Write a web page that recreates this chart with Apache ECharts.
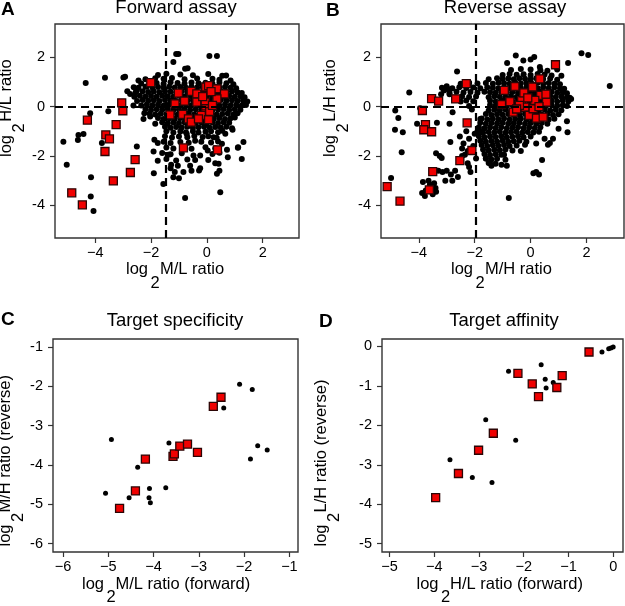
<!DOCTYPE html>
<html><head><meta charset="utf-8">
<script src="https://cdn.jsdelivr.net/npm/echarts@6/dist/echarts.min.js"></script>
<style>html,body{margin:0;padding:0;background:#fff}#c{width:625px;height:606px}</style>
</head><body><div id="c"></div>
<script>
// ---------------- DATA ----------------
const ticksAB = [-4, -2, 0, 2];
const ticksC = [-6, -5, -4, -3, -2, -1];
const ticksD = [-5, -4, -3, -2, -1, 0];

// Panel A: Forward assay (x = log2 M/L, y = log2 H/L)
const forwardOther = [
[-4.34,0.95],[-3.65,1.16],[-2.93,1.21],[-2.99,1.17],[-2.45,1.05],[-4.18,-0.27],[-3.53,-0.19],[-2.63,0.04],[-4.42,-1.11],[-4.62,-1.35],[-5.14,-1.42],[-3.76,-1.48],[-2.51,-1.62],[-5.02,-2.36],[-4.15,-2.86],[-4.16,-3.64],[-4.06,-4.23],[-2.27,-0.5],[-1.88,-1.34],[-1.76,-1.48],[-1.76,-2.19],[-1.9,-2.7],[-1.56,-3.13],[-1.2,1.8],[-1.1,2.13],[-1.28,-2.36],[-1.2,-2.86],[-1.85,-0.7],[-2.75,0.51],[-2.24,-0.27],[-1.02,2.13],[0.09,2.04],[0.36,2.04],[-0.78,1.53],[-0.69,1.55],[0.69,1.26],[1.37,0.14],[1.31,0.25],[0.92,-0.94],[1.31,-1.44],[1.11,-1.67],[1.25,-2.12],[0.75,-2.05],[0.42,-2.32],[0.36,-2.72],[0.48,-3.47],[-0.78,-3.7],[-0.28,-2.59],[-0.6,-2.4],[-0.55,-2.6],[-0.84,-2.65],[-1.04,-2.4],[-1.0,-2.9],[-0.48,-1.98],[-0.24,-1.98],[0.03,-1.78],[0.54,-1.51],[0.66,-1.1],[0.24,-1.24],[-0.42,-1.38],[-0.72,-1.11],
[-4.6,-1.15],[-2.15,0.81],[-2.51,0.65],[-2.03,-0.4],[-1.91,-1.82],[-1.3,-2.5],[-1.15,-2.65],[-0.42,-2.16],[-0.24,-2.5],[0.3,-2.3],[0.45,-2.6],[0.9,-0.88],[1.12,-1.65],[0.72,-1.75],[-2.85,0.62],[-2.62,0.78],[-1.38,-1.95],
[-1.75,1.28],[-1.45,1.33],[-0.95,1.3],[-0.5,1.27],[0.05,1.32],[0.55,1.25],
[-2.2,1.1],[-1.85,1.14],[-1.55,1.12],[-1.25,1.15],[-0.8,1.1],[-0.35,1.13],[0.2,1.12],[0.45,1.08],[0.85,1.05],
[-2.35,0.93],[-2.05,0.97],[-1.8,0.95],[-1.55,0.92],[-1.3,0.98],[-1.05,0.95],[-0.8,0.93],[-0.55,0.97],[-0.3,0.94],[-0.05,0.96],[0.2,0.93],[0.45,0.97],[0.7,0.94],[0.95,0.9],
[-2.45,0.76],[-2.2,0.8],[-1.95,0.77],[-1.75,0.79],[-1.55,0.76],[-1.35,0.8],[-1.15,0.77],[-0.95,0.79],[-0.75,0.76],[-0.55,0.8],[-0.35,0.77],[-0.15,0.79],[0.05,0.76],[0.25,0.8],[0.45,0.77],[0.65,0.79],[0.85,0.76],[1.05,0.74],
[-2.55,0.58],[-2.3,0.62],[-2.1,0.59],[-1.9,0.61],[-1.7,0.58],[-1.5,0.62],[-1.3,0.6],[-1.1,0.58],[-0.9,0.62],[-0.7,0.59],[-0.5,0.61],[-0.3,0.58],[-0.1,0.62],[0.1,0.6],[0.3,0.58],[0.5,0.62],[0.7,0.59],[0.9,0.61],[1.1,0.58],[1.25,0.55],
[-2.6,0.4],[-2.4,0.44],[-2.2,0.41],[-2.0,0.43],[-1.8,0.4],[-1.6,0.44],[-1.4,0.42],[-1.2,0.4],[-1.0,0.44],[-0.8,0.41],[-0.6,0.43],[-0.4,0.4],[-0.2,0.44],[0.0,0.42],[0.2,0.4],[0.4,0.44],[0.6,0.41],[0.8,0.43],[1.0,0.4],[1.2,0.42],[1.35,0.38],
[-2.5,0.22],[-2.3,0.26],[-2.1,0.23],[-1.9,0.25],[-1.7,0.22],[-1.5,0.26],[-1.3,0.24],[-1.1,0.22],[-0.9,0.26],[-0.7,0.23],[-0.5,0.25],[-0.3,0.22],[-0.1,0.26],[0.1,0.24],[0.3,0.22],[0.5,0.26],[0.7,0.23],[0.9,0.25],[1.1,0.22],[1.3,0.24],[1.45,0.2],
[-2.35,0.04],[-2.15,0.08],[-1.95,0.05],[-1.75,0.07],[-1.55,0.04],[-1.35,0.08],[-1.15,0.06],[-0.95,0.04],[-0.75,0.08],[-0.55,0.05],[-0.35,0.07],[-0.15,0.04],[0.05,0.08],[0.25,0.06],[0.45,0.04],[0.65,0.08],[0.85,0.05],[1.05,0.07],[1.25,0.04],[1.4,0.06],
[-2.2,-0.1],[-2.0,-0.14],[-1.8,-0.11],[-1.6,-0.13],[-1.4,-0.1],[-1.2,-0.14],[-1.0,-0.12],[-0.8,-0.1],[-0.6,-0.14],[-0.4,-0.11],[-0.2,-0.13],[0.0,-0.1],[0.2,-0.14],[0.4,-0.12],[0.6,-0.1],[0.8,-0.14],[1.0,-0.11],[1.2,-0.13],
[-2.05,-0.28],[-1.85,-0.32],[-1.65,-0.29],[-1.45,-0.31],[-1.25,-0.28],[-1.05,-0.32],[-0.85,-0.3],[-0.65,-0.28],[-0.45,-0.32],[-0.25,-0.29],[-0.05,-0.31],[0.15,-0.28],[0.35,-0.32],[0.55,-0.3],[0.75,-0.28],[0.95,-0.32],[1.1,-0.27],
[-1.75,-0.46],[-1.55,-0.5],[-1.35,-0.47],[-1.15,-0.49],[-0.95,-0.46],[-0.75,-0.5],[-0.55,-0.48],[-0.35,-0.46],[-0.15,-0.5],[0.05,-0.47],[0.25,-0.49],[0.45,-0.46],[0.65,-0.5],[0.85,-0.47],[1.0,-0.44],
[-1.6,-0.64],[-1.4,-0.68],[-1.2,-0.65],[-1.0,-0.67],[-0.8,-0.64],[-0.6,-0.68],[-0.4,-0.66],[-0.2,-0.64],[0.0,-0.68],[0.2,-0.65],[0.4,-0.67],[0.6,-0.64],[0.8,-0.66],
[-1.5,-0.82],[-1.3,-0.86],[-1.1,-0.83],[-0.9,-0.85],[-0.7,-0.82],[-0.5,-0.86],[-0.3,-0.84],[-0.1,-0.82],[0.1,-0.86],[0.3,-0.83],[0.5,-0.85],[0.7,-0.82],
[-1.45,-1.0],[-1.2,-1.05],[-0.95,-1.01],[-0.75,-1.04],[-0.5,-1.0],[-0.3,-1.05],[-0.05,-1.02],[0.15,-1.0],[0.4,-1.04],[0.55,-0.98],
[-1.5,-1.2],[-1.25,-1.25],[-1.0,-1.21],[-0.7,-1.24],[-0.45,-1.19],[-0.15,-1.23],[0.05,-1.2],[0.35,-1.26],
[-1.55,-1.42],[-1.3,-1.48],[-0.95,-1.44],[-0.65,-1.47],[-0.2,-1.43],[0.15,-1.46],[0.4,-1.41],
[-1.45,-1.66],[-1.2,-1.7],[-0.85,-1.67],[-0.55,-1.71],[-0.05,-1.65],[0.3,-1.69],
[-1.6,-1.88],[-1.3,-1.93],[-0.9,-1.89],[0.2,-1.92],[0.45,-1.87],
[-1.45,-2.12],[-1.1,-2.18],[-0.7,-2.14],[0.05,-2.16]
];
const forwardTargets = [
[-4.84,-3.49],[-4.46,-3.98],[-4.28,-0.55],[-3.05,0.15],[-3.01,-0.17],[-3.25,-0.73],[-3.62,-1.15],[-3.49,-1.31],[-3.65,-1.82],[-2.57,-2.15],[-2.74,-2.67],[-3.35,-3.01],[-2.01,0.97],[-1.32,-0.34],[-1.14,0.11],[-1.02,0.54],[-0.8,0.22],[-0.87,-0.32],[-0.56,0.61],[-0.36,0.51],[-0.36,0.18],[-0.66,-0.5],[-0.56,-0.63],[-0.04,0.79],[0.06,0.85],[0.36,0.72],[0.63,0.51],[0.36,0.31],[-0.06,0.18],[-0.04,-0.09],[-0.04,-0.3],[-0.2,-0.36],[0.06,-0.53],[-0.84,-1.67],[0.38,-1.75],[0.1,-0.2],[0.2,0.05],[-0.3,-0.5],[-0.15,0.4],[0.15,0.6]
];

// Panel B: Reverse assay (x = log2 M/H, y = log2 L/H)
const reverseOther = [
[-4.34,0.57],[-4.84,-0.16],[-4.73,-0.46],[-4.85,-0.94],[-4.57,-1.04],[-4.61,-1.85],[-4.99,-2.89],[-4.06,-0.7],[-3.35,-0.66],[-3.17,0.76],[-3.0,0.82],[-2.95,0.7],[-2.63,1.42],[-2.79,-0.23],[-2.87,-1.44],[-2.53,-1.21],[-3.38,-1.89],[-3.25,-2.0],[-3.18,-2.08],[-2.9,-0.7],[-3.95,-0.07],
[-3.3,-2.6],[-3.15,-2.65],[-3.0,-2.6],[-2.85,-2.75],[-3.05,-3.0],[-2.8,-3.0],[-2.7,-2.6],[-2.6,-2.85],
[-3.85,-3.05],[-3.65,-3.0],[-3.45,-3.1],[-3.88,-3.5],[-3.75,-3.4],[-3.4,-3.3],[-3.38,-3.45],[-3.6,-3.15],[-3.5,-3.55],[-3.78,-3.62],
[-2.45,-1.7],[-2.25,-2.3],[-2.2,-2.45],[-2.15,-2.65],[-2.35,-1.95],[-1.8,-0.5],[-1.75,-1.0],[-1.6,-2.1],[-1.4,-2.4],[-1.45,-2.3],[-1.04,-2.36],
[-2.4,-1.5],[-2.2,-1.3],[-2.0,-1.1],[-2.3,-1.0],[-2.05,-1.6],[-2.25,-1.8],[-1.95,-2.1],[-2.45,-2.0],[-3.1,0.65],[-3.2,0.5],
[-0.53,2.07],[-0.84,1.76],[-0.26,1.86],[0.13,2.0],[0.0,1.9],[0.33,1.6],[1.34,1.76],[1.82,2.16],[2.06,2.09],[2.83,0.83],[1.32,-1.04],[0.69,-1.48],[0.62,-1.55],[0.41,-2.16],[0.1,-2.7],[0.3,-2.75],[0.2,-2.65],[-0.78,-3.7],[-0.95,-1.95],[-0.85,-2.4],[-0.9,-2.15],
[1.45,0.3],[1.3,-0.6],[1.0,-0.9],[0.8,-1.3],[0.5,-1.3],[0.2,-1.5],[-0.2,-1.55],[-0.35,-1.8],[-2.2,0.95],[-2.9,0.5],[0.95,1.5],[1.1,1.25],
[-0.7,1.48],[-0.35,1.52],[0.0,1.5],[0.35,1.47],[0.6,1.45],
[-1.0,1.28],[-0.75,1.32],[-0.5,1.29],[-0.25,1.31],[0.0,1.28],[0.25,1.32],[0.5,1.3],[0.75,1.26],
[-1.5,1.1],[-1.2,1.14],[-1.0,1.11],[-0.8,1.13],[-0.6,1.1],[-0.4,1.14],[-0.2,1.12],[0.0,1.1],[0.2,1.14],[0.45,1.11],[0.7,1.13],[0.95,1.08],
[-2.5,0.92],[-2.2,0.96],[-1.9,0.93],[-1.6,0.95],[-1.35,0.92],[-1.15,0.96],[-0.95,0.94],[-0.75,0.92],[-0.55,0.96],[-0.35,0.93],[-0.15,0.95],[0.05,0.92],[0.25,0.96],[0.45,0.93],[0.65,0.95],[0.85,0.92],[1.05,0.9],
[-2.8,0.74],[-2.55,0.78],[-2.3,0.75],[-2.05,0.77],[-1.8,0.74],[-1.55,0.78],[-1.35,0.76],[-1.15,0.74],[-0.95,0.78],[-0.75,0.75],[-0.55,0.77],[-0.35,0.74],[-0.15,0.78],[0.05,0.76],[0.25,0.74],[0.45,0.78],[0.65,0.75],[0.85,0.77],[1.05,0.74],[1.2,0.72],
[-2.9,0.56],[-2.65,0.6],[-2.4,0.57],[-2.15,0.59],[-1.9,0.56],[-1.65,0.6],[-1.45,0.58],[-1.25,0.56],[-1.05,0.6],[-0.85,0.57],[-0.65,0.59],[-0.45,0.56],[-0.25,0.6],[-0.05,0.58],[0.15,0.56],[0.35,0.6],[0.55,0.57],[0.75,0.59],[0.95,0.56],[1.15,0.58],[1.3,0.54],
[-2.7,0.38],[-2.45,0.42],[-2.2,0.39],[-1.95,0.41],[-1.5,0.38],[-1.3,0.42],[-1.1,0.4],[-0.9,0.38],[-0.7,0.42],[-0.5,0.39],[-0.3,0.41],[-0.1,0.38],[0.1,0.42],[0.3,0.4],[0.5,0.38],[0.7,0.42],[0.9,0.39],[1.1,0.41],[1.3,0.38],[1.4,0.36],
[-2.5,0.2],[-2.3,0.24],[-2.05,0.21],[-1.45,0.23],[-1.25,0.2],[-1.05,0.24],[-0.85,0.22],[-0.65,0.2],[-0.45,0.24],[-0.25,0.21],[-0.05,0.23],[0.15,0.2],[0.35,0.24],[0.55,0.21],[0.75,0.23],[0.95,0.2],[1.15,0.24],[1.35,0.2],
[-2.2,0.02],[-1.45,0.06],[-1.25,0.03],[-1.05,0.05],[-0.85,0.02],[-0.65,0.06],[-0.45,0.04],[-0.25,0.02],[-0.05,0.06],[0.15,0.03],[0.35,0.05],[0.55,0.02],[0.75,0.06],[0.95,0.03],[1.15,0.05],[1.3,0.02],
[-2.1,-0.12],[-1.5,-0.16],[-1.3,-0.13],[-1.1,-0.15],[-0.9,-0.12],[-0.7,-0.16],[-0.5,-0.14],[-0.3,-0.12],[-0.1,-0.16],[0.1,-0.13],[0.3,-0.15],[0.5,-0.12],[0.7,-0.16],[0.9,-0.13],[1.1,-0.15],
[-1.6,-0.3],[-1.4,-0.34],[-1.2,-0.31],[-1.0,-0.33],[-0.8,-0.3],[-0.6,-0.34],[-0.4,-0.32],[-0.2,-0.3],[0.0,-0.34],[0.2,-0.31],[0.4,-0.33],[0.6,-0.3],[0.8,-0.34],[1.0,-0.31],
[-1.75,-0.48],[-1.55,-0.52],[-1.35,-0.49],[-1.15,-0.51],[-0.95,-0.48],[-0.75,-0.52],[-0.55,-0.5],[-0.35,-0.48],[-0.15,-0.52],[0.05,-0.49],[0.25,-0.51],[0.45,-0.48],[0.65,-0.52],[0.85,-0.49],
[-1.8,-0.66],[-1.6,-0.7],[-1.4,-0.67],[-1.2,-0.69],[-1.0,-0.66],[-0.8,-0.7],[-0.6,-0.68],[-0.4,-0.66],[-0.2,-0.7],[0.0,-0.67],[0.2,-0.69],[0.4,-0.66],[0.6,-0.7],
[-1.85,-0.84],[-1.65,-0.88],[-1.45,-0.85],[-1.25,-0.87],[-1.05,-0.84],[-0.85,-0.88],[-0.65,-0.86],[-0.45,-0.84],[-0.25,-0.88],[-0.05,-0.85],[0.15,-0.87],[0.35,-0.84],
[-1.9,-1.02],[-1.7,-1.06],[-1.5,-1.03],[-1.3,-1.05],[-1.1,-1.02],[-0.9,-1.06],[-0.7,-1.04],[-0.5,-1.02],[-0.3,-1.06],[-0.1,-1.03],[0.1,-1.05],[0.3,-1.02],
[-1.85,-1.2],[-1.65,-1.24],[-1.45,-1.21],[-1.25,-1.23],[-1.05,-1.2],[-0.85,-1.24],[-0.65,-1.22],[-0.45,-1.2],[-0.25,-1.24],[0.0,-1.21],
[-1.8,-1.38],[-1.6,-1.42],[-1.4,-1.39],[-1.2,-1.41],[-1.0,-1.38],[-0.8,-1.42],[-0.6,-1.4],[-0.4,-1.38],[-0.15,-1.42],
[-1.75,-1.56],[-1.55,-1.6],[-1.35,-1.57],[-1.15,-1.59],[-0.95,-1.56],[-0.75,-1.6],[-0.5,-1.58],
[-1.7,-1.74],[-1.5,-1.78],[-1.3,-1.75],[-1.1,-1.77],[-0.9,-1.74],[-0.65,-1.78],
[-1.65,-1.92],[-1.45,-1.96],[-1.25,-1.93],[-1.05,-1.95],
[-1.6,-2.1],[-1.4,-2.14],[-1.2,-2.11],
[-1.5,-2.28],[-1.25,-2.32]
];
const reverseTargets = [
[-5.13,-3.24],[-4.67,-3.83],[-3.87,-0.16],[-3.54,0.32],[-3.29,0.22],[-3.76,-0.73],[-3.82,-0.94],[-3.54,-1.02],[-2.68,0.31],[-2.3,0.93],[-2.27,-0.66],[-3.5,-2.63],[-3.62,-3.37],[-2.53,-2.19],[-2.1,-1.78],[-1.04,0.08],[-0.94,0.65],[-0.74,0.2],[-0.56,0.81],[-0.62,-0.23],[-0.32,0.24],[-0.24,0.55],[-0.2,-0.02],[-0.05,-0.36],[0.07,0.79],[0.09,-0.09],[0.21,-0.47],[0.33,1.12],[0.89,1.69],[0.36,0.45],[0.57,0.18],[0.45,-0.43],[-0.4,0.05],[0.15,0.25],[-0.1,0.35],[0.3,0.0],[-0.5,-0.1],[0.55,0.5]
];

// Panel C: Target specificity
const specificityOther = [
[-4.93,-3.35],[-5.06,-4.72],[-4.54,-4.83],[-4.35,-4.06],[-4.09,-4.6],[-4.1,-4.83],[-4.07,-4.96],[-3.73,-4.58],[-3.66,-3.44],[-2.45,-2.55],[-2.1,-1.95],[-1.82,-2.08],[-1.86,-3.85],[-1.7,-3.51],[-1.49,-3.62]
];
const specificityTargets = [
[-4.75,-5.1],[-4.4,-4.66],[-4.18,-3.85],[-3.57,-3.78],[-3.54,-3.72],[-3.42,-3.52],[-3.25,-3.47],[-3.03,-3.68],[-2.68,-2.51],[-2.51,-2.28]
];

// Panel D: Target affinity
const affinityOther = [
[-3.65,-2.87],[-3.15,-3.32],[-2.71,-3.45],[-2.85,-1.86],[-2.18,-2.38],[-2.34,-0.63],[-1.61,-0.46],[-1.52,-0.83],[-1.5,-1.05],[-1.34,-0.91],[-0.25,-0.14],[-0.1,-0.06],[-0.05,-0.04],[0.0,-0.01]
];
const affinityTargets = [
[-3.97,-3.83],[-3.46,-3.22],[-3.01,-2.63],[-2.68,-2.2],[-2.13,-0.68],[-1.81,-0.95],[-1.67,-1.27],[-1.26,-1.04],[-1.14,-0.74],[-0.54,-0.14]
];

// ---------------- CHART ----------------
const FONT = '"Liberation Sans", Arial, Helvetica, sans-serif';
const chart = echarts.init(document.getElementById('c'), null, {renderer: 'canvas'});

const grids = [
  {left: 55, top: 24, width: 244, height: 214},
  {left: 381, top: 24, width: 243, height: 214},
  {left: 53, top: 339, width: 245, height: 213},
  {left: 382, top: 339, width: 241, height: 213}
].map(g => Object.assign({show: true, borderColor: '#333', borderWidth: 1.4, backgroundColor: 'transparent'}, g));

function minusFmt(v) { return v < 0 ? '\u2212' + Math.abs(v) : String(v); }
function hyphenFmt(v) { return String(v); }

function axis(gi, min, max, ticks, isX) {
  return {
    type: 'value', gridIndex: gi, min: min, max: max,
    axisLine: {show: false, onZero: false},
    splitLine: {show: false},
    axisTick: {show: true, inside: false, length: 5, customValues: ticks, lineStyle: {color: '#333', width: 1.2}},
    axisLabel: {customValues: ticks, formatter: isX ? minusFmt : hyphenFmt, fontSize: 14.5, fontFamily: FONT, color: '#000', margin: isX ? 7 : 10}
  };
}

const xAxes = [
  axis(0, -5.44, 3.3, ticksAB, true),
  axis(1, -5.35, 3.34, ticksAB, true),
  axis(2, -6.22, -0.81, ticksC, true),
  axis(3, -5.17, 0.22, ticksD, true)
];
const yAxes = [
  axis(0, -5.32, 3.34, ticksAB, false),
  axis(1, -5.32, 3.34, ticksAB, false),
  axis(2, -6.21, -0.8, ticksC, false),
  axis(3, -5.21, 0.19, ticksD, false)
];

const dash = {color: '#000', width: 2.2, type: [8, 5]};
function blackSeries(i, data, size, lines) {
  const s = {type: 'scatter', xAxisIndex: i, yAxisIndex: i, data: data, symbol: 'circle', symbolSize: size,
    itemStyle: {color: '#000', opacity: 1, borderWidth: 0}, silent: true, z: 2, animation: false};
  if (lines) s.markLine = {silent: true, symbol: 'none', label: {show: false}, lineStyle: dash, animation: false, data: lines};
  return s;
}
function redSeries(i, data, size) {
  return {type: 'scatter', xAxisIndex: i, yAxisIndex: i, data: data, symbol: 'rect', symbolSize: size,
    itemStyle: {color: '#f00000', borderColor: '#2b0505', borderWidth: 1.3, opacity: 1}, silent: true, z: 4, animation: false};
}

function txt(x, y, text, o) {
  o = o || {};
  return {type: 'text', x: x, y: y, rotation: o.rot || 0, originX: 0, originY: 0, silent: true, z: 100,
    style: {text: text, fill: '#000', fontSize: o.size || 16.5, fontFamily: FONT, fontWeight: o.bold ? 'bold' : 'normal',
      align: o.align || 'left', verticalAlign: 'middle'}};
}
// rotated pieces are centred on their own midpoint
function rtxt(x, y, text) { return txt(x, y, text, {rot: Math.PI / 2, align: 'center'}); }

const graphics = [
  // panel letters
  txt(1, 10, 'A', {bold: true, size: 19}),
  txt(326, 11, 'B', {bold: true, size: 19}),
  txt(1, 320, 'C', {bold: true, size: 19}),
  txt(319, 321.5, 'D', {bold: true, size: 19}),
  // titles
  txt(176, 8, 'Forward assay', {size: 18.5, align: 'center'}),
  txt(505, 8, 'Reverse assay', {size: 18.5, align: 'center'}),
  txt(175, 321, 'Target specificity', {size: 18.5, align: 'center'}),
  txt(504, 321, 'Target affinity', {size: 18.5, align: 'center'}),
  // A x label
  txt(126, 269.7, 'log'), txt(150.5, 283.7, '2'), txt(160, 269.7, 'M/L ratio'),
  // A y label
  rtxt(6.5, 146, 'log'), rtxt(19.5, 127.9, '2'), rtxt(6.5, 90.5, 'H/L ratio'),
  // B x label
  txt(451, 269.7, 'log'), txt(475.5, 283.7, '2'), txt(485, 269.7, 'M/H ratio'),
  // B y label
  rtxt(330, 146, 'log'), rtxt(343, 127.9, '2'), rtxt(330, 90.5, 'L/H ratio'),
  // C x label
  txt(82, 584.5, 'log'), txt(106.5, 597, '2'), txt(115.5, 584.5, 'M/L ratio (forward)'),
  // C y label
  rtxt(5.5, 535.5, 'log'), rtxt(18.5, 517.4, '2'), rtxt(5.5, 443.8, 'M/H ratio (reverse)'),
  // D x label
  txt(416.5, 584.5, 'log'), txt(441, 597, '2'), txt(450, 584.5, 'H/L ratio (forward)'),
  // D y label
  rtxt(321.5, 535.5, 'log'), rtxt(334.5, 517.4, '2'), rtxt(321.5, 446, 'L/H ratio (reverse)')
];

chart.setOption({
  animation: false,
  backgroundColor: '#fff',
  grid: grids,
  xAxis: xAxes,
  yAxis: yAxes,
  series: [
    blackSeries(0, forwardOther, 6, [{xAxis: -1.47}, {yAxis: 0}]),
    redSeries(0, forwardTargets, 8),
    blackSeries(1, reverseOther, 6, [{xAxis: -1.97}, {yAxis: 0}]),
    redSeries(1, reverseTargets, 8),
    blackSeries(2, specificityOther, 5),
    redSeries(2, specificityTargets, 8),
    blackSeries(3, affinityOther, 5),
    redSeries(3, affinityTargets, 8)
  ],
  graphic: graphics
});
</script></body></html>
